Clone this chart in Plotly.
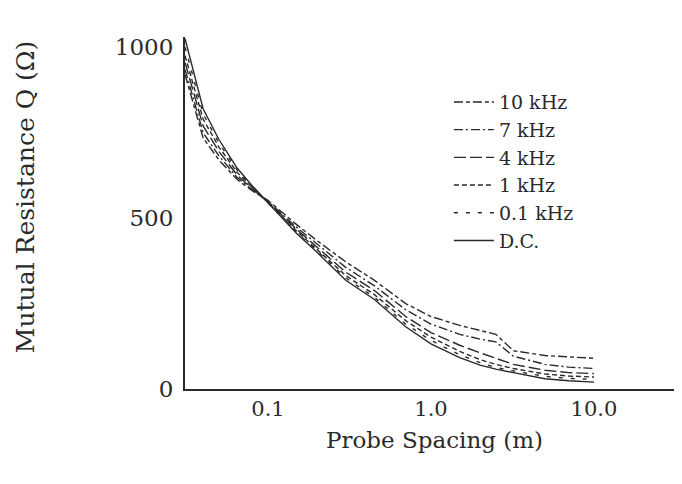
import plotly.graph_objects as go

# Probe spacing (m)
spacing = [0.031, 0.04, 0.05, 0.065, 0.08, 0.1, 0.15, 0.2, 0.3, 0.45, 0.7, 1.0, 1.5, 2.0, 2.5, 3.2, 5.0, 7.0, 10.0]

# Mutual resistance (ohm) per frequency
r_10k = [920, 735, 670, 612, 580, 552, 481, 434, 372, 318, 250, 212, 186, 172, 160, 112, 98, 94, 90]
r_7k = [935, 750, 682, 618, 583, 549, 473, 424, 356, 302, 232, 190, 160, 146, 138, 96, 72, 64, 60]
r_4k = [955, 770, 695, 625, 586, 547, 467, 416, 342, 288, 212, 165, 128, 106, 90, 72, 55, 48, 45]
r_1k = [975, 790, 708, 633, 589, 546, 462, 409, 332, 276, 200, 152, 110, 86, 72, 60, 44, 38, 35]
r_01k = [1000, 805, 720, 640, 592, 545, 458, 404, 325, 268, 190, 142, 100, 77, 63, 53, 37, 31, 28]
r_dc = [1025, 820, 730, 645, 595, 545, 455, 400, 318, 262, 182, 132, 92, 70, 58, 48, 30, 24, 20]

series_names = ["10 kHz", "7 kHz", "4 kHz", "1 kHz", "0.1 kHz", "D.C."]
series_values = [r_10k, r_7k, r_4k, r_1k, r_01k, r_dc]
series_dash = ["9px,3px,4px,3px", "9px,3px,2px,3px", "12px,4px", "5px,3px", "4px,8px", "solid"]

x_tickvals = [0.1, 1.0, 10.0]
x_ticktext = ["0.1", "1.0", "10.0"]
y_tickvals = [0, 500, 1000]

FONT = "DejaVu Serif"
INK = "#2a2a2a"

fig = go.Figure()
for name, vals, dash in zip(series_names, series_values, series_dash):
    fig.add_trace(go.Scatter(
        x=spacing, y=vals, name=name, mode="lines",
        line=dict(color=INK, width=1.4, dash=dash),
    ))

fig.update_layout(
    width=682, height=484,
    margin=dict(l=177, r=8, t=29, b=103),
    paper_bgcolor="white", plot_bgcolor="white",
    font=dict(family=FONT, color=INK, size=20),
    showlegend=True,
    legend=dict(
        x=0.531, y=0.869, xanchor="left", yanchor="top",
        bgcolor="rgba(0,0,0,0)", borderwidth=0,
        font=dict(family=FONT, size=19, color=INK),
        itemwidth=40, tracegroupgap=0,
    ),
    xaxis=dict(
        type="log", range=[-1.509, 1.54],
        tickvals=x_tickvals, ticktext=x_ticktext,
        showgrid=False, zeroline=False,
        showline=True, linecolor=INK, linewidth=2,
        ticks="", ticklabelstandoff=0,
        tickfont=dict(family=FONT, size=21, color=INK),
    ),
    yaxis=dict(
        range=[0, 1030],
        tickvals=y_tickvals,
        showgrid=False, zeroline=False,
        showline=True, linecolor=INK, linewidth=2,
        ticks="", ticklabelstandoff=5,
        tickfont=dict(family=FONT, size=23, color=INK),
    ),
    annotations=[
        dict(text="Probe Spacing (m)", xref="paper", yref="paper",
             x=0.503, y=-0.145, xanchor="center", yanchor="middle", showarrow=False,
             font=dict(family=FONT, size=23, color=INK)),
        dict(text="Mutual Resistance Q (Ω)", xref="paper", yref="paper",
             x=-0.322, y=0.545, xanchor="center", yanchor="middle", showarrow=False,
             textangle=-90,
             font=dict(family=FONT, size=25, color=INK)),
    ],
)

fig.write_html("out.html")
